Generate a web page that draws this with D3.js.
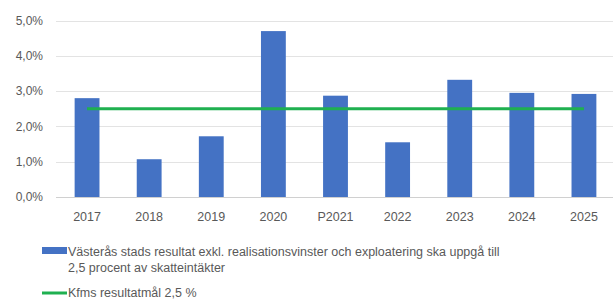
<!DOCTYPE html>
<html>
<head>
<meta charset="utf-8">
<script src="https://cdn.jsdelivr.net/npm/d3@7"></script>
<style>
  body { margin: 0; background: #fff; }
  svg { display: block; font-family: "Liberation Sans", Arial, sans-serif; }
</style>
</head>
<body>
<div id="chart"></div>
<script>
var width = 613,
    height = 307;

// data
var years = ["2017", "2018", "2019", "2020", "P2021", "2022", "2023", "2024", "2025"];
var resultat = [2.8, 1.07, 1.72, 4.7, 2.87, 1.55, 3.32, 2.95, 2.92];
var malvarde = [2.5, 2.5, 2.5, 2.5, 2.5, 2.5, 2.5, 2.5, 2.5];
var yTicks = [0, 1, 2, 3, 4, 5];
var legendBar = ["Västerås stads resultat exkl. realisationsvinster och exploatering ska uppgå till",
                 "2,5 procent av skatteintäkter"];
var legendLine = "Kfms resultatmål 2,5 %";

var blue = "#4472c4",
    green = "#1fb050",
    grey = "#595959";

var svg = d3.select("#chart")
    .append("svg")
    .attr("width", width)
    .attr("height", height);

var x = d3.scaleBand()
    .domain(years)
    .range([56, 615])
    .paddingInner(0.6)
    .paddingOuter(0.3);

var y = d3.scaleLinear()
    .domain([0, 5])
    .range([197, 20.5]);

// gridlines
svg.append("g")
    .selectAll("line")
    .data(yTicks)
    .join("line")
    .attr("x1", 56)
    .attr("x2", 613)
    .attr("y1", d => Math.round(y(d)) + 0.5)
    .attr("y2", d => Math.round(y(d)) + 0.5)
    .style("stroke", d => d == 0 ? "#d0d0d0" : "#e3e3e3")
    .style("stroke-width", 1);

// y axis labels
var yAxis = svg.append("g")
    .attr("transform", "translate(43,0)")
    .call(d3.axisLeft(y).tickValues(yTicks).tickSize(0).tickPadding(0)
        .tickFormat(d => d3.format(".1f")(d).replace(".", ",") + "%"));
yAxis.select(".domain").remove();
yAxis.selectAll("text")
    .style("font-size", "12px")
    .style("fill", grey)
    .style("font-family", "'Liberation Sans', Arial, sans-serif");

// bars
svg.append("g")
    .selectAll("rect")
    .data(resultat)
    .join("rect")
    .attr("x", (d, i) => x(years[i]))
    .attr("width", x.bandwidth())
    .attr("y", d => y(d))
    .attr("height", d => y(0) - y(d))
    .style("fill", blue);

// target line
var line = d3.line()
    .x((d, i) => x(years[i]) + x.bandwidth() / 2)
    .y(d => y(d));

svg.append("path")
    .datum(malvarde)
    .attr("d", line)
    .style("fill", "none")
    .style("stroke", green)
    .style("stroke-width", 3);

// x axis labels
var xAxis = svg.append("g")
    .attr("transform", "translate(0,212)")
    .call(d3.axisBottom(x).tickSize(0).tickPadding(0));
xAxis.select(".domain").remove();
xAxis.selectAll("text")
    .attr("dy", "0.71em")
    .style("font-size", "12.5px")
    .style("fill", grey)
    .style("font-family", "'Liberation Sans', Arial, sans-serif");

// legend
svg.append("rect")
    .attr("x", 42)
    .attr("y", 247)
    .attr("width", 25)
    .attr("height", 7)
    .style("fill", blue);

svg.append("g")
    .selectAll("text")
    .data(legendBar)
    .join("text")
    .attr("x", 68)
    .attr("y", (d, i) => 256 + i * 16)
    .style("font-size", "12.5px")
    .style("fill", grey)
    .text(d => d);

svg.append("line")
    .attr("x1", 42)
    .attr("x2", 67)
    .attr("y1", 293)
    .attr("y2", 293)
    .style("stroke", green)
    .style("stroke-width", 3);

svg.append("text")
    .attr("x", 68)
    .attr("y", 297)
    .style("font-size", "12.5px")
    .style("fill", grey)
    .text(legendLine);
</script>
</body>
</html>
